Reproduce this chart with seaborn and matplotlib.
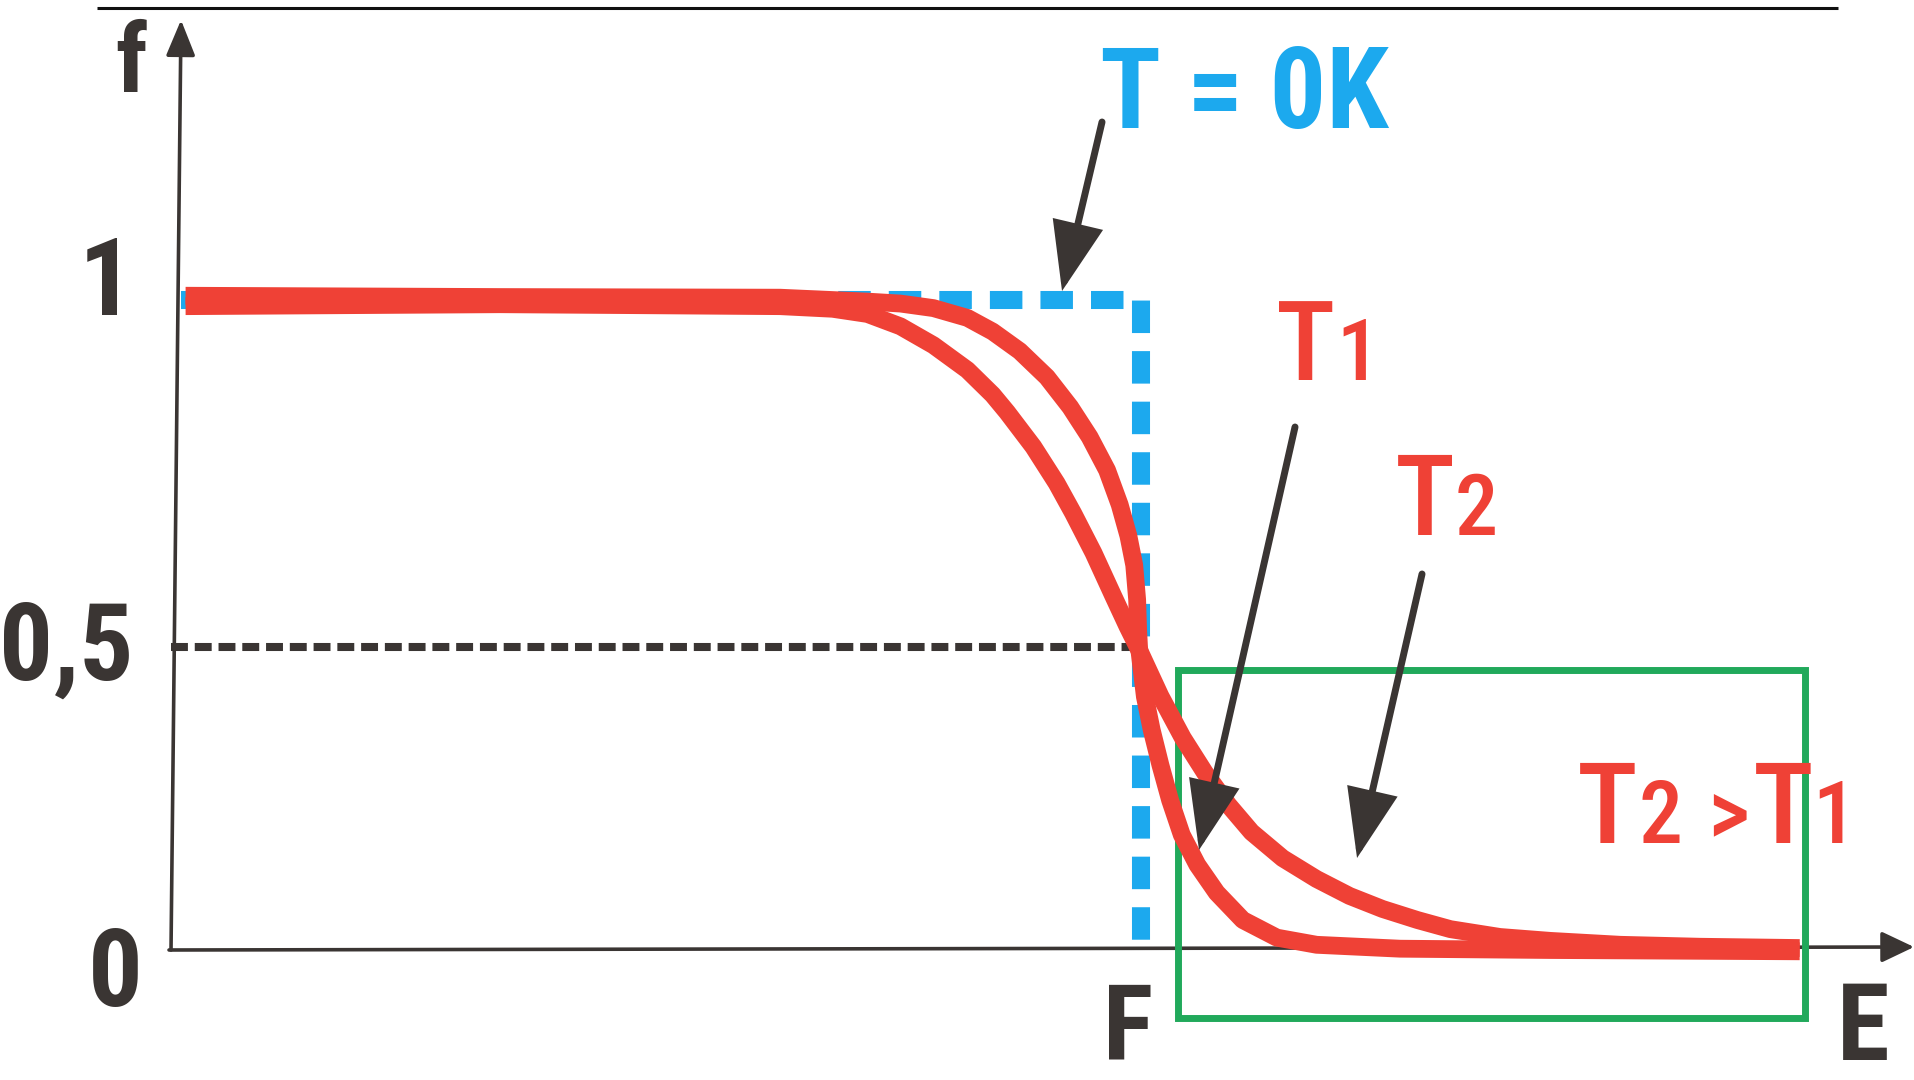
import matplotlib
matplotlib.use("Agg")
import matplotlib.pyplot as plt
from matplotlib import font_manager as fm
from matplotlib.patches import Rectangle
import numpy as np
import pandas as pd
import seaborn as sns

# ---------------- data ----------------
# Energy in units of the Fermi energy (E_F = 1), occupation f in [0, 1]
E_T1 = [0.015, 0.339, 0.628, 0.718, 0.752, 0.786, 0.821, 0.847, 0.875, 0.903,
        0.927, 0.947, 0.965, 0.978, 0.987, 0.993, 0.996, 0.997, 0.998, 1.004,
        1.011, 1.020, 1.030, 1.042, 1.058, 1.078, 1.105, 1.140, 1.181, 1.267,
        1.422, 1.679]
f_T1 = [1.005, 1.003, 1.002, 0.996, 0.993, 0.986, 0.971, 0.950, 0.920, 0.880,
        0.834, 0.788, 0.737, 0.684, 0.636, 0.591, 0.538, 0.492, 0.464, 0.389,
        0.338, 0.284, 0.230, 0.177, 0.131, 0.088, 0.046, 0.019, 0.008, 0.002,
        0.000, -0.002]

E_T2 = [0.015, 0.339, 0.628, 0.682, 0.718, 0.752, 0.786, 0.821, 0.847, 0.862,
        0.889, 0.913, 0.930, 0.951, 0.971, 0.986, 0.997, 1.020, 1.043, 1.066,
        1.090, 1.114, 1.146, 1.181, 1.215, 1.249, 1.285, 1.319, 1.370, 1.422,
        1.494, 1.576, 1.679]
f_T2 = [0.989, 0.992, 0.989, 0.985, 0.977, 0.958, 0.929, 0.891, 0.853, 0.826,
        0.773, 0.717, 0.671, 0.610, 0.545, 0.497, 0.464, 0.390, 0.326, 0.272,
        0.223, 0.181, 0.141, 0.109, 0.083, 0.063, 0.046, 0.032, 0.020, 0.014,
        0.008, 0.005, 0.003]

# T = 0 K step function
E_T0 = [0.010, 1.000, 1.000]
f_T0 = [0.998, 0.998, 0.015]

E_F = 1.0
HALF_LEVEL = 0.465          # drawn level of the "0,5" guide
HALF_END = 0.997
y_labels = ["1", "0,5", "0"]
axis_labels = ["f", "E", "F"]
T0_label = "T = 0K"

# highlighted region (tail of the distribution)
box_E = [1.038, 1.685]
box_f = [-0.104, 0.430]

# ---------------- style ----------------
RED = "#EF4136"
BLUE = "#1CA9EE"
GREEN = "#21A95B"
DARK = "#3A3533"

sns.set_theme(style="white")
names = {f.name for f in fm.fontManager.ttflist}
narrow = next((n for n in ["Liberation Sans Narrow", "Roboto Condensed",
                           "DejaVu Sans Condensed", "Liberation Sans"] if n in names),
              "DejaVu Sans")
plt.rcParams["font.family"] = [narrow, "DejaVu Sans"]

fig = plt.figure(figsize=(19.15, 10.80), dpi=100)
ax = fig.add_axes([0, 0, 1, 1])
ax.set_xlim(-0.1763, 1.7979)
ax.set_ylim(-0.1997, 1.4593)
ax.axis("off")


def P(px, py):
    """layout helper: reference pixel -> data coordinates"""
    return ((px - 171) / 970.0, (950 - py) / 651.0)


# top border line
ax.hlines(P(0, 8)[1], P(97, 0)[0], P(1838, 0)[0], color="#111111", lw=2.2, zorder=1)

# T = 0 K step (blue dashed)
step = pd.DataFrame({"E": E_T0, "f": f_T0})
n0 = len(ax.lines)
sns.lineplot(data=step, x="E", y="f", sort=False, estimator=None, ax=ax,
             color=BLUE, linestyle=(0, (1.8, 1.0)), zorder=2)
for ln in ax.lines[n0:]:
    ln.set_linewidth(13)
    ln.set_dash_capstyle("butt")

# half-occupation guide (black dashed)
ax.hlines(HALF_LEVEL, 0, HALF_END, color=DARK, lw=5.8,
          linestyles=[(0, (2.1, 0.85))], zorder=3)

# axes with arrows
ax.annotate("", xy=P(181, 20), xytext=P(171, 950),
            arrowprops=dict(arrowstyle="-|>,head_length=2.2,head_width=0.9",
                            mutation_scale=10, lw=2.6, color=DARK,
                            shrinkA=0, shrinkB=0), zorder=3)
ax.annotate("", xy=P(1914, 947), xytext=P(169, 950),
            arrowprops=dict(arrowstyle="-|>,head_length=2.0,head_width=0.95",
                            mutation_scale=10, lw=2.6, color=DARK,
                            shrinkA=0, shrinkB=0), zorder=3)

# green highlight box
ax.add_patch(Rectangle((box_E[0], box_f[0]), box_E[1] - box_E[0], box_f[1] - box_f[0],
                       fill=False, edgecolor=GREEN, lw=5.0, zorder=3.5))

# Fermi-Dirac curves
curves = pd.concat([
    pd.DataFrame({"E": E_T1, "f": f_T1, "curve": "T1"}),
    pd.DataFrame({"E": E_T2, "f": f_T2, "curve": "T2"}),
], ignore_index=True)
n1 = len(ax.lines)
sns.lineplot(data=curves, x="E", y="f", hue="curve", units="curve",
             palette={"T1": RED, "T2": RED}, sort=False, estimator=None,
             legend=False, ax=ax, zorder=4)
for ln in ax.lines[n1:]:
    ln.set_linewidth(12.8)
    ln.set_solid_capstyle("butt")
    ln.set_solid_joinstyle("round")

# annotation arrows
arrow_kw = dict(arrowstyle="-|>,head_length=4.0,head_width=1.5", mutation_scale=10,
                lw=5.0, color=DARK, shrinkA=0, shrinkB=0, joinstyle="miter")
ax.annotate("", xy=P(1062, 291), xytext=P(1102, 122), arrowprops=arrow_kw, zorder=6)
ax.annotate("", xy=P(1199, 850), xytext=P(1295, 427), arrowprops=arrow_kw, zorder=6)
ax.annotate("", xy=P(1357, 858), xytext=P(1422, 574), arrowprops=arrow_kw, zorder=6)

# dark bold labels
bold = dict(color=DARK, fontweight="bold", va="baseline", ha="center", zorder=7)
ax.text(*P(131, 92), axis_labels[0], fontsize=70, **bold)
ax.text(*P(106, 315), y_labels[0], fontsize=78, **bold)
ax.text(*P(66, 680), y_labels[1], fontsize=77, **bold)
ax.text(*P(115, 1006), y_labels[2], fontsize=78, **bold)
ax.text(*P(1128, 1060), axis_labels[2], fontsize=76, **bold)
ax.text(*P(1863, 1060), axis_labels[1], fontsize=77, **bold)

# blue label
ax.text(*P(1244, 128), T0_label, fontsize=81, color=BLUE, fontweight="bold",
        ha="center", va="baseline", zorder=7)

# red temperature labels
red = dict(color=RED, va="baseline", ha="left", fontweight="medium", zorder=7)
ax.text(*P(1276, 380), "T", fontsize=80, **red)
ax.text(*P(1336, 380), "1", fontsize=62, **red)
ax.text(*P(1395, 535), "T", fontsize=81, **red)
ax.text(*P(1455, 535), "2", fontsize=62, **red)

ax.text(*P(1577, 843), "T", fontsize=82, **red)
ax.text(*P(1638, 843), "2", fontsize=63, **red)
ax.text(*P(1707, 843), ">", fontsize=66, **red)
ax.text(*P(1753, 843), "T", fontsize=82, **red)
ax.text(*P(1812, 843), "1", fontsize=63, **red)

fig.savefig("out.png", dpi=100, facecolor="white")
